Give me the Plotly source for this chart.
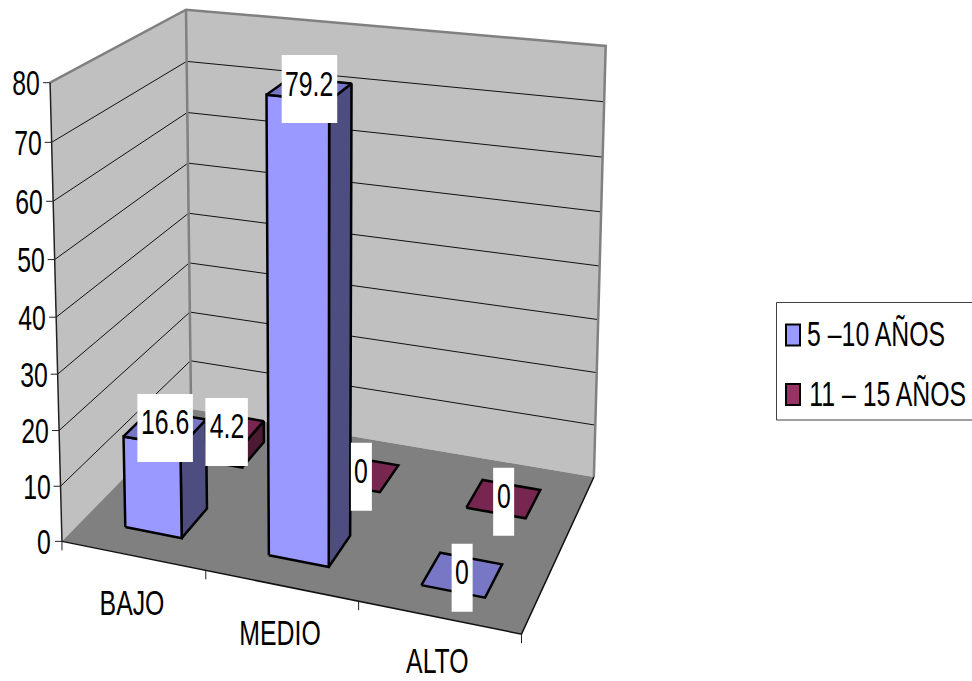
import numpy as np
import plotly.graph_objects as go

categories = ["BAJO", "MEDIO", "ALTO"]
series_names = ["5 –10 AÑOS", "11 – 15 AÑOS"]
values_a = [16.6, 79.2, 0]
values_b = [4.2, 0, 0]
z_ticks = [0, 10, 20, 30, 40, 50, 60, 70, 80]

FONT = "Liberation Sans, Arial"
FS = 36
W, H = 972, 681
X_MAX, Y_MAX, Z_MAX = 3.0, 2.0, 80.0
BAR_W, BAR_GAP = 0.4, 0.3

# Calibration of the oblique view: chart-box position (fractions) -> page pixel
calib_box = [(0,0,0),(1,0,0),(1,1,0),(0,1,0),(0,1,1),(1,1,1),(0,0,1),
             (1/3,0,0),(2/3,0,0),(0,1,.5),(0,0,.5),(1,1,.5)]
calib_pix = [(63,542),(521,633),(594,477),(191,408),(186,10),(606,46),(50,83),
             (206,572),(358,602),(188,214),(56,315),(600,266)]

def solve_view():
    A = []
    for (a, b, c), (u, v) in zip(calib_box, calib_pix):
        u, v = u / 500, v / 500
        A.append([a, b, c, 1, 0, 0, 0, 0, -u*a, -u*b, -u*c, -u])
        A.append([0, 0, 0, 0, a, b, c, 1, -v*a, -v*b, -v*c, -v])
    return np.linalg.svd(np.array(A))[2][-1].reshape(3, 4)

VIEW = solve_view()

def P(x, y, z):
    h = VIEW @ np.array([x / X_MAX, y / Y_MAX, z / Z_MAX, 1.0])
    return float(h[0] / h[2] * 500), float(h[1] / h[2] * 500)

fig = go.Figure()

def poly(points, fill=None, line=None, width=1, name=None):
    px = [P(*q) for q in points]
    xs = [a for a, _ in px]
    ys = [b for _, b in px]
    if fill:
        xs.append(xs[0]); ys.append(ys[0])
    fig.add_trace(go.Scatter(
        x=xs, y=ys, mode="lines", fill="toself" if fill else None, fillcolor=fill,
        line=dict(color=line or "rgba(0,0,0,0)", width=width, simplify=False),
        hoverinfo="skip", showlegend=False, name=name))

WALL, FLOOR, EDGE = "#C0C0C0", "#808080", "#808080"
poly([(0,0,0),(0,Y_MAX,0),(0,Y_MAX,Z_MAX),(0,0,Z_MAX)], fill=WALL)
poly([(0,Y_MAX,0),(X_MAX,Y_MAX,0),(X_MAX,Y_MAX,Z_MAX),(0,Y_MAX,Z_MAX)], fill=WALL)
poly([(0,0,0),(X_MAX,0,0),(X_MAX,Y_MAX,0),(0,Y_MAX,0)], fill=FLOOR)
for t in z_ticks[1:-1]:
    poly([(0,0,t),(0,Y_MAX,t),(X_MAX,Y_MAX,t)], line="#111111", width=1)
poly([(0,0,Z_MAX),(0,Y_MAX,Z_MAX),(X_MAX,Y_MAX,Z_MAX),(X_MAX,Y_MAX,0)], line=EDGE, width=2.5)
poly([(0,Y_MAX,0),(0,Y_MAX,Z_MAX)], line=EDGE, width=2.5)
poly([(0,0,0),(0,0,Z_MAX)], line="#222222", width=1.5)
poly([(0,0,0),(X_MAX,0,0),(X_MAX,Y_MAX,0)], line="#111111", width=1.5)

shades = [dict(front="#9999FF", side="#4D4D80", top="#7777C6"),
          dict(front="#993366", side="#4D1A33", top="#772650")]

def bar(i, j, v, c, name):
    x0, x1 = i + BAR_GAP, i + BAR_GAP + BAR_W
    y0, y1 = j + BAR_GAP, j + BAR_GAP + BAR_W
    if v > 0:
        poly([(x1,y0,0),(x1,y1,0),(x1,y1,v),(x1,y0,v)], fill=c["side"], line="black", width=2.5, name=name)
        poly([(x0,y0,0),(x1,y0,0),(x1,y0,v),(x0,y0,v)], fill=c["front"], line="black", width=2.5, name=name)
    poly([(x0,y0,v),(x1,y0,v),(x1,y1,v),(x0,y1,v)], fill=c["top"], line="black", width=2.5, name=name)

for j, vals in reversed(list(enumerate((values_a, values_b)))):
    for i, v in enumerate(vals):
        bar(i, j, v, shades[j], series_names[j])

for t in z_ticks:
    px, py = P(0, 0, t)
    fig.add_shape(type="line", x0=px - 7, x1=px, y0=py, y1=py, line=dict(color="#222222", width=1))
    s = str(t)
    fig.add_annotation(x=px - 11 - 6.5 * len(s), y=py, text=s, showarrow=False, xanchor="center", yanchor="middle",
                       font=dict(family=FONT, size=FS, color="black"))
for i in range(4):
    px, py = P(i, 0, 0)
    fig.add_shape(type="line", x0=px, x1=px, y0=py, y1=py + 9, line=dict(color="#222222", width=1))
for i, c in enumerate(categories):
    px, py = P(i + .5, 0, 0)
    fig.add_annotation(x=px - 1, y=min(py + 47, H - 21), text=c, showarrow=False, xanchor="center", yanchor="middle",
                       font=dict(family=FONT, size=FS, color="black"))

for j, vals in enumerate((values_a, values_b)):
    for i, v in enumerate(vals):
        px, py = P(i + .5, j + .5, v)
        py += 3 if v < 10 else 0
        s = str(v)
        tw = 13 * sum(ch.isdigit() for ch in s) + 6.5 * s.count(".")
        w = tw + (10 if "." in s else 8)
        fig.add_shape(type="rect", x0=px - w / 2, x1=px + w / 2, y0=py - 34, y1=py + 34,
                      line=dict(width=0), fillcolor="white")
        fig.add_annotation(x=px, y=py - 6, text=s, showarrow=False, xanchor="center", yanchor="middle",
                           font=dict(family=FONT, size=FS, color="black"))

fig.add_shape(type="rect", x0=776.5, x1=975, y0=302.5, y1=420, line=dict(color="#404040", width=1), fillcolor="white")
for nm, cc, yc, xc in zip(series_names, ("#9999FF", "#993366"), (335, 394.5), (876, 887)):
    fig.add_shape(type="rect", x0=786, x1=800, y0=yc - 10.5, y1=yc + 10.5, line=dict(color="black", width=2), fillcolor=cc)
    fig.add_annotation(x=xc, y=yc - 1.5, text=nm, showarrow=False, xanchor="center", yanchor="middle",
                       font=dict(family=FONT, size=FS, color="black"))

fig.update_layout(
    width=W, height=H, margin=dict(l=0, r=0, t=0, b=0), paper_bgcolor="white", plot_bgcolor="white",
    showlegend=False,
    xaxis=dict(range=[0, W], visible=False, fixedrange=True),
    yaxis=dict(range=[H, 0], visible=False, fixedrange=True),
)
SQUEEZE = ("document.body.style.margin='0';document.body.style.overflow='hidden';"
           "document.querySelectorAll('text.annotation-text').forEach(function(t){"
           "var b=t.getBBox(),c=b.x+b.width/2,p=t.getAttribute('transform')||'';"
           "t.setAttribute('transform',p+' translate('+c+' 0) scale(0.69 1) translate('+(-c)+' 0)');});")
fig.write_html("out.html", post_script=SQUEEZE, config=dict(displayModeBar=False))
